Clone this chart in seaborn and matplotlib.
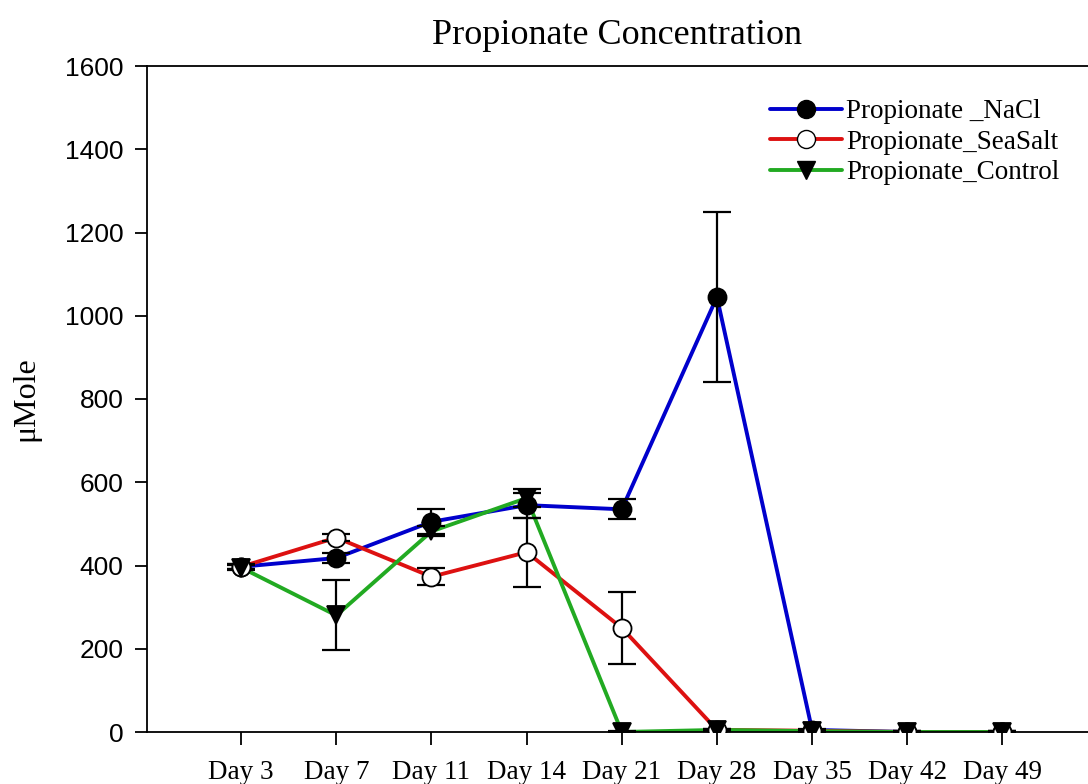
import matplotlib
matplotlib.use("Agg")
import matplotlib.pyplot as plt
import seaborn as sns
import pandas as pd
import numpy as np
from matplotlib.lines import Line2D

days = ["Day 3", "Day 7", "Day 11", "Day 14", "Day 21", "Day 28", "Day 35", "Day 42", "Day 49"]
nacl = [397, 418, 505, 545, 535, 1045, 5, 0, 0]
nacl_err = [6, 12, 30, 30, 24, 205, 3, 2, 2]
seasalt = [397, 467, 373, 432, 250, 5, 3, 0, 0]
seasalt_err = [6, 8, 20, 83, 87, 3, 2, 2, 2]
control = [395, 280, 482, 562, 0, 5, 2, 0, 0]
control_err = [6, 84, 12, 22, 2, 3, 2, 2, 2]

names = ["Propionate _NaCl", "Propionate_SeaSalt", "Propionate_Control"]
colors = {"Propionate _NaCl": "#0000cc", "Propionate_SeaSalt": "#dd1111", "Propionate_Control": "#22aa22"}
markers = {"Propionate _NaCl": "o", "Propionate_SeaSalt": "o", "Propionate_Control": "v"}
faces = {"Propionate _NaCl": "black", "Propionate_SeaSalt": "white", "Propionate_Control": "black"}

rows = []
for name, vals, errs in zip(names, [nacl, seasalt, control], [nacl_err, seasalt_err, control_err]):
    for i, (d, v, e) in enumerate(zip(days, vals, errs)):
        rows.append({"pos": i, "day": d, "value": v, "err": e, "series": name})
df = pd.DataFrame(rows)

sns.set_theme(style="white")
plt.rcParams["font.family"] = ["Liberation Serif", "DejaVu Serif"]
plt.rcParams["text.color"] = "black"
plt.rcParams["axes.labelcolor"] = "black"
plt.rcParams["xtick.color"] = "black"
plt.rcParams["ytick.color"] = "black"

fig = plt.figure(figsize=(10.88, 7.84), dpi=100)
ax = fig.add_axes([147/1088, 52/784, 1 - 147/1088, (732-66)/784])

sns.lineplot(data=df, x="pos", y="value", hue="series", palette=colors,
             hue_order=names, linewidth=2.8, ax=ax, legend=False, zorder=2)

for name in names:
    sub = df[df.series == name]
    ax.errorbar(sub["pos"], sub["value"], yerr=sub["err"], fmt="none",
                ecolor="black", elinewidth=1.6, capsize=10, capthick=1.6, zorder=3)
    ax.plot(sub["pos"], sub["value"], linestyle="none", marker=markers[name],
            markersize=13, markerfacecolor=faces[name], markeredgecolor="black",
            markeredgewidth=1.3, zorder=4)

ax.set_xlim(-0.99, 8.9)
ax.set_ylim(0, 1600)
ax.set_xticks(range(len(days)))
ax.set_xticklabels(days, fontsize=19.5, family=["Liberation Serif"])
ax.set_yticks(range(0, 1601, 200))
ax.set_yticklabels([str(v) for v in range(0, 1601, 200)], fontsize=19, family=["Liberation Sans"])
ax.tick_params(axis="both", direction="out", length=9, width=1.3, color="black", bottom=True, left=True)
ax.tick_params(axis="y", pad=8)
ax.tick_params(axis="x", pad=11)
ax.set_xlabel("")
ax.set_ylabel("μMole", fontsize=23)
ax.yaxis.set_label_coords(-0.113, 0.5)
ax.set_title("Propionate Concentration", fontsize=26, pad=16)

for s in ["left", "bottom", "top"]:
    ax.spines[s].set_color("black")
    ax.spines[s].set_linewidth(1.3)
ax.spines["right"].set_visible(False)

handles = [Line2D([0], [0], color=colors[n], linewidth=2.8, marker=markers[n], markersize=13,
                  markerfacecolor=faces[n], markeredgecolor="black") for n in names]
ax.legend(handles, names, loc="upper left", bbox_to_anchor=(0.651, 0.966), frameon=False,
          fontsize=19.5, handlelength=2.65, handletextpad=0.15, labelspacing=0.2, borderaxespad=0.0)

fig.savefig("out.png", dpi=100)
